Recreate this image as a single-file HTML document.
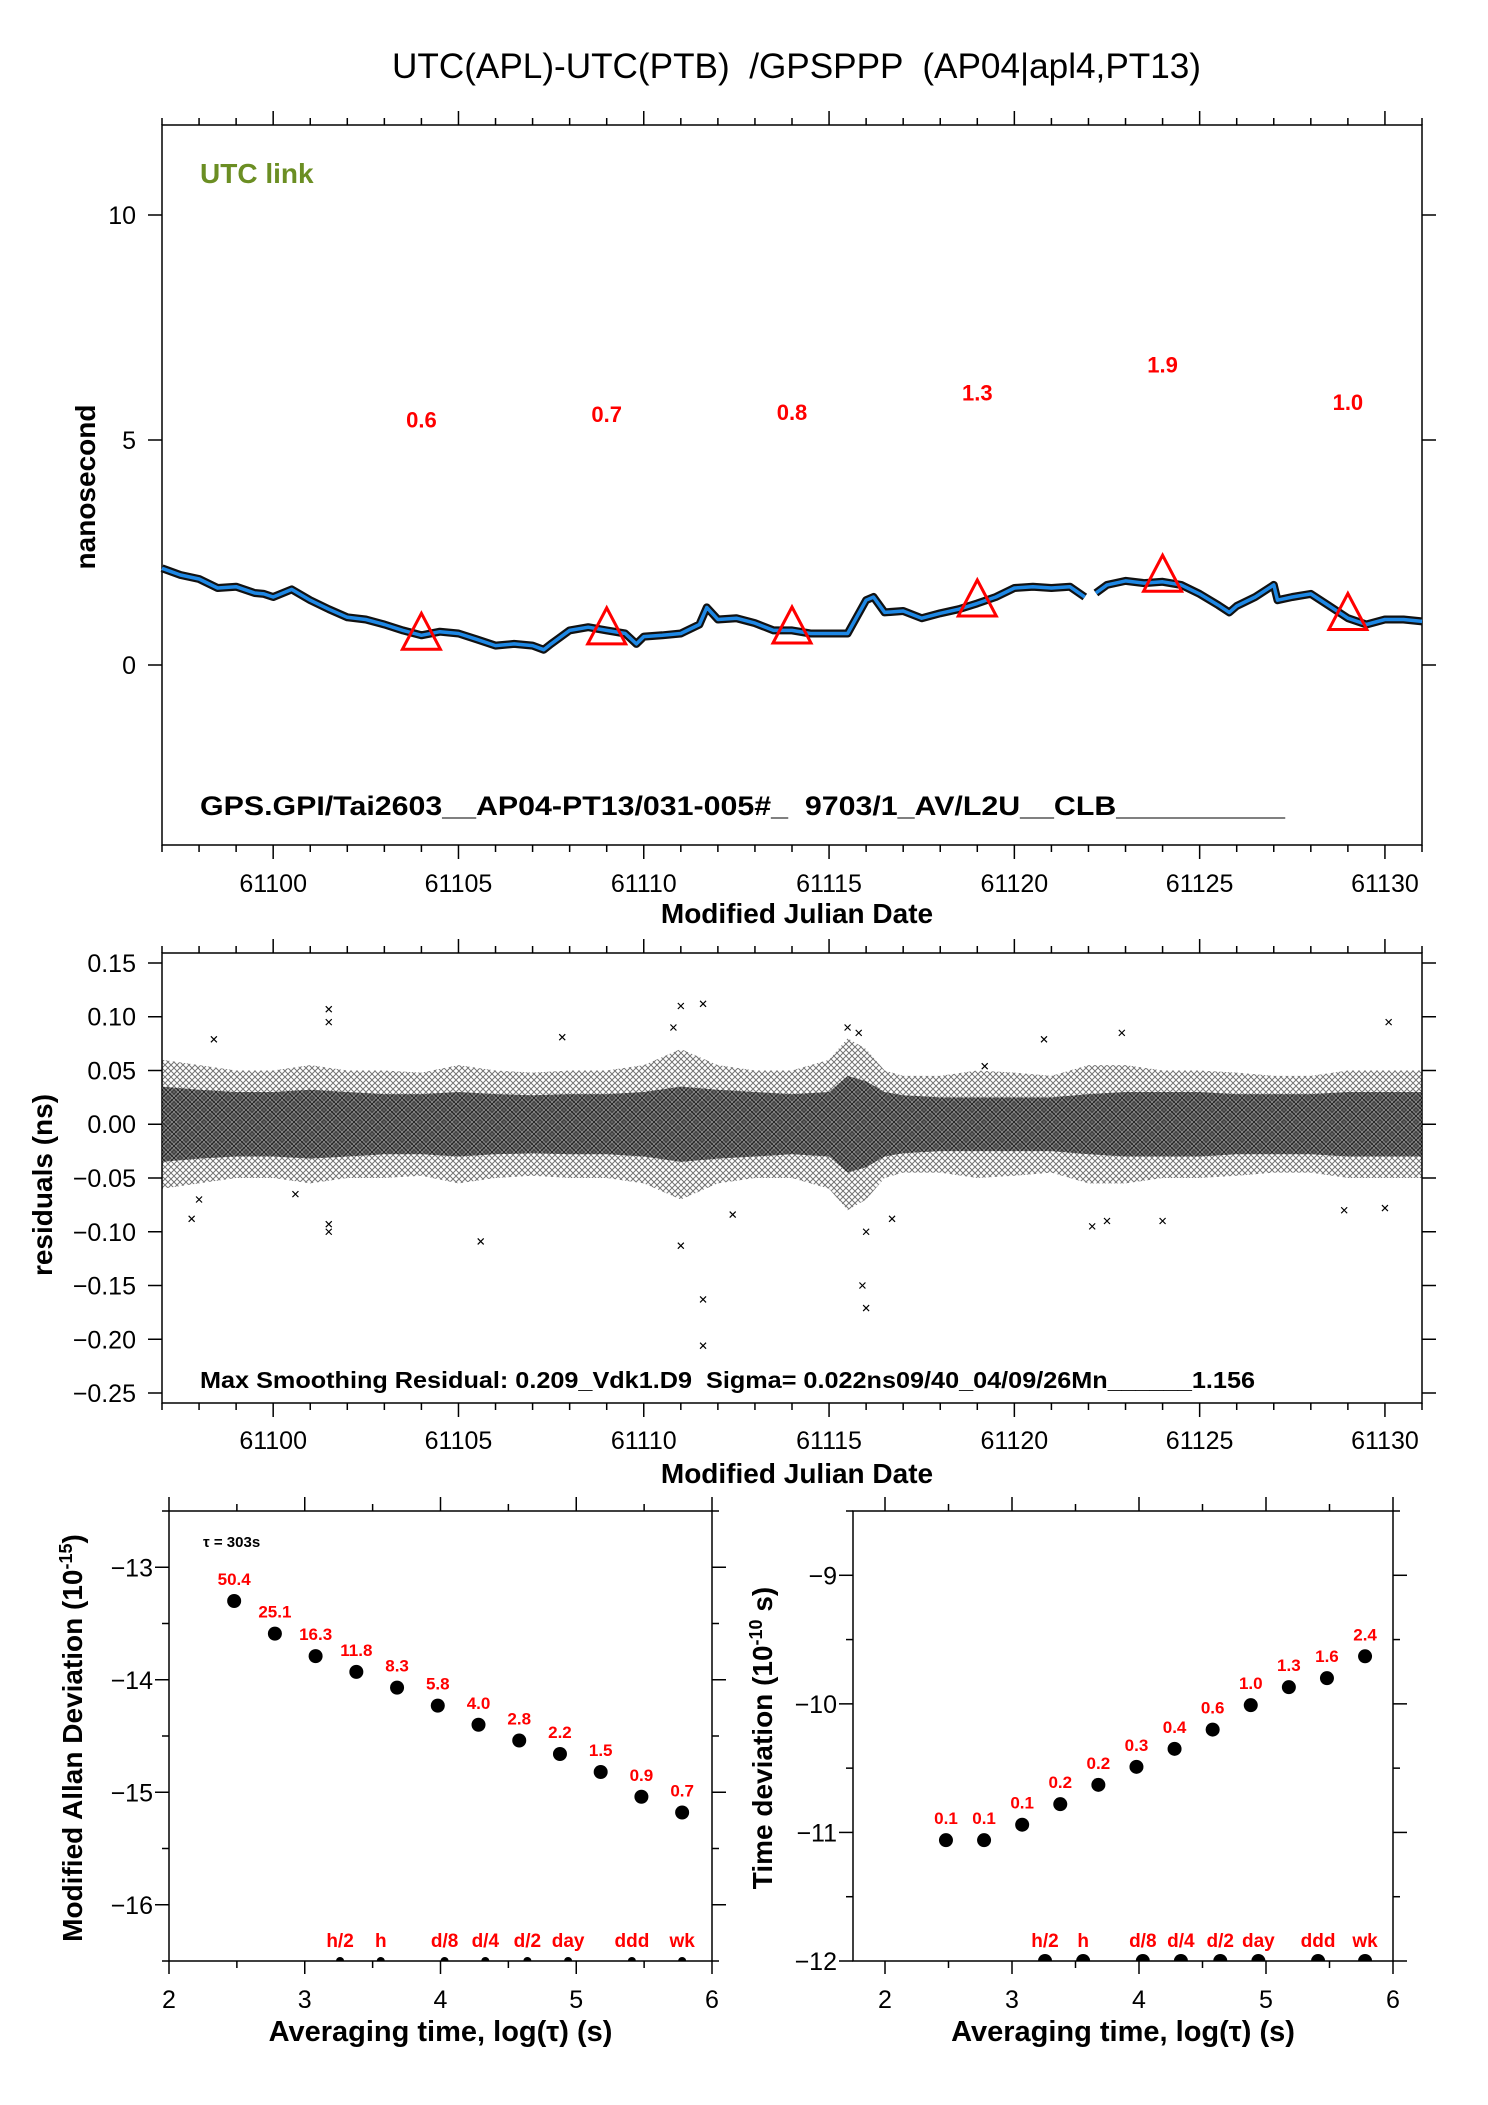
<!DOCTYPE html>
<html><head><meta charset="utf-8"><style>
html,body{margin:0;padding:0;background:#fff}
svg{display:block}
text{font-family:"Liberation Sans",sans-serif}
</style></head><body>
<svg id="s" width="1488" height="2105" viewBox="0 0 1488 2105" xmlns="http://www.w3.org/2000/svg">
<text x="392" y="78" font-size="35" textLength="809" lengthAdjust="spacingAndGlyphs" xml:space="preserve">UTC(APL)-UTC(PTB)  /GPSPPP  (AP04|apl4,PT13)</text>
<text x="200" y="183" font-size="28" font-weight="bold" fill="#6b8e23">UTC link</text>
<text x="200" y="815" font-size="27" font-weight="bold" textLength="1085" lengthAdjust="spacingAndGlyphs" xml:space="preserve">GPS.GPI/Tai2603__AP04-PT13/031-005#_  9703/1_AV/L2U__CLB__________</text>
<text x="200" y="1388" font-size="23" font-weight="bold" textLength="1055" lengthAdjust="spacingAndGlyphs" xml:space="preserve">Max Smoothing Residual: 0.209_Vdk1.D9  Sigma= 0.022ns09/40_04/09/26Mn______1.156</text>
<text x="203" y="1547" font-size="15" font-weight="bold">τ = 303s</text>
<g id="g"></g>
</svg>
<script>
// ---- Panel 1 data ----
const mjd1 = [61097,61097.5,61098,61098.5,61099,61099.5,61099.75,61100,61100.5,61101,61101.5,61102,61102.5,61103,61103.5,61104,61104.5,61105,61105.5,61106,61106.5,61107,61107.3,61107.5,61108,61108.5,61109,61109.5,61109.8,61110,61110.5,61111,61111.5,61111.7,61112,61112.5,61113,61113.5,61114,61114.5,61115,61115.5,61116,61116.2,61116.5,61117,61117.5,61118,61118.5,61119,61119.5,61120,61120.5,61121,61121.5,61121.9];
const ns1 = [2.15,2.0,1.91,1.71,1.74,1.6,1.58,1.51,1.68,1.44,1.24,1.06,1.01,0.9,0.77,0.66,0.74,0.7,0.57,0.43,0.47,0.43,0.34,0.47,0.77,0.84,0.77,0.7,0.47,0.63,0.66,0.7,0.9,1.28,1.01,1.04,0.93,0.77,0.77,0.7,0.7,0.7,1.44,1.51,1.17,1.2,1.04,1.15,1.24,1.37,1.51,1.71,1.74,1.71,1.74,1.51];
const mjd1b = [61122.2,61122.5,61123,61123.5,61124,61124.5,61125,61125.5,61125.8,61126,61126.5,61127,61127.1,61127.5,61128,61128.5,61129,61129.5,61130,61130.5,61131];
const ns1b = [1.6,1.78,1.87,1.82,1.85,1.78,1.58,1.33,1.17,1.31,1.51,1.78,1.44,1.51,1.58,1.31,1.04,0.9,1.01,1.01,0.97];
const triMjd = [61104,61109,61114,61119,61124,61129];
const triVal = [0.66,0.78,0.8,1.4,1.95,1.1];
const triLabels = ["0.6","0.7","0.8","1.3","1.9","1.0"];
const triLabelVal = [5.46,5.58,5.62,6.06,6.68,5.85];
const mjdTicks = [61100,61105,61110,61115,61120,61125,61130];
const nsTicks = [0,5,10];
// ---- Panel 2 data ----
const resDays = [61097,61098,61099,61100,61101,61102,61103,61104,61105,61106,61107,61108,61109,61110,61111,61112,61113,61114,61115,61115.5,61116,61116.5,61117,61118,61119,61120,61121,61122,61123,61124,61125,61126,61127,61128,61129,61130,61131];
const resCore = [0.035,0.032,0.03,0.03,0.032,0.03,0.028,0.028,0.03,0.028,0.027,0.028,0.028,0.03,0.035,0.032,0.03,0.028,0.03,0.045,0.04,0.03,0.027,0.025,0.025,0.025,0.025,0.028,0.03,0.03,0.03,0.028,0.028,0.028,0.03,0.03,0.03];
const resOuter = [0.06,0.055,0.05,0.05,0.055,0.05,0.05,0.048,0.055,0.05,0.048,0.05,0.05,0.055,0.07,0.055,0.05,0.05,0.06,0.08,0.07,0.05,0.045,0.045,0.05,0.048,0.045,0.055,0.055,0.05,0.05,0.048,0.045,0.045,0.05,0.05,0.05];
const outMjd = [61101.5,61101.5,61101.5,61098.4,61097.8,61105.6,61111.0,61111.6,61111.0,61111.6,61111.6,61115.9,61116.0,61116.0,61116.7,61120.8,61122.9,61122.5,61130.1,61130.0,61107.8,61112.4,61124.0,61119.2,61098.0,61101.5,61110.8,61115.5,61115.8,61122.1,61128.9,61100.6];
const outVal = [0.107,0.095,-0.093,0.079,-0.088,-0.109,0.11,0.112,-0.113,-0.163,-0.206,-0.15,-0.171,-0.10,-0.088,0.079,0.085,-0.09,0.095,-0.078,0.081,-0.084,-0.09,0.054,-0.07,-0.1,0.09,0.09,0.085,-0.095,-0.08,-0.065];
const resTicks = [0.15,0.10,0.05,0.00,-0.05,-0.10,-0.15,-0.20,-0.25];
// ---- Stability data ----
const logTau = [2.48,2.78,3.08,3.38,3.68,3.98,4.28,4.58,4.88,5.18,5.48,5.78];
const adev = [-13.30,-13.59,-13.79,-13.93,-14.07,-14.23,-14.40,-14.54,-14.66,-14.82,-15.04,-15.18];
const adevLabels = ["50.4","25.1","16.3","11.8","8.3","5.8","4.0","2.8","2.2","1.5","0.9","0.7"];
const tdev = [-11.06,-11.06,-10.94,-10.78,-10.63,-10.49,-10.35,-10.20,-10.01,-9.87,-9.80,-9.63];
const tdevLabels = ["0.1","0.1","0.1","0.2","0.2","0.3","0.4","0.6","1.0","1.3","1.6","2.4"];
const markPos = [3.26,3.56,4.03,4.33,4.64,4.94,5.41,5.78];
const markLabels = ["h/2","h","d/8","d/4","d/2","day","ddd","wk"];
const adevTicks = [-13,-14,-15,-16];
const tdevTicks = [-9,-10,-11,-12];
const tauTicks = [2,3,4,5,6];

const NS="http://www.w3.org/2000/svg";
const G=document.getElementById('g');
function el(t,a,p){const e=document.createElementNS(NS,t);for(const k in a)e.setAttribute(k,a[k]);(p||G).appendChild(e);return e;}
function lin(d0,d1,r0,r1){return v=>r0+(v-d0)*(r1-r0)/(d1-d0);}
function txt(x,y,s,size,opt){const e=el('text',Object.assign({x:x,y:y,'font-size':size},opt||{}));e.textContent=s;return e;}

// ===== Panel 1 =====
const L1=162,R1=1422,T1=125,B1=845;
const x1=lin(61097,61131,L1,R1), y1=lin(-4,12,B1,T1);
let fr=el('rect',{x:L1,y:T1,width:R1-L1,height:B1-T1,fill:'none',stroke:'#000','stroke-width':1.5});


for(let d=61097;d<=61131;d++){const big=d%5===0;const L=big?14:7;const x=x1(d);
 el('line',{x1:x,x2:x,y1:T1,y2:T1-L,stroke:'#000','stroke-width':1.5});
 el('line',{x1:x,x2:x,y1:B1,y2:B1+L,stroke:'#000','stroke-width':1.5});}
mjdTicks.forEach(v=>{const t=txt(x1(v),892,String(v),25,{'text-anchor':'middle'});
 
 });
nsTicks.forEach(v=>{const y=y1(v);
 el('line',{x1:L1,x2:L1-14,y1:y,y2:y,stroke:'#000','stroke-width':1.5});
 el('line',{x1:R1,x2:R1+14,y1:y,y2:y,stroke:'#000','stroke-width':1.5});
 const t=txt(136,y+9,String(v),25,{'text-anchor':'end'});
 
 });
let t=txt(797,923,'Modified Julian Date',28,{'text-anchor':'middle','font-weight':'bold'});


t=txt(0,0,'nanosecond',28,{'text-anchor':'middle','font-weight':'bold',transform:'translate(95,487) rotate(-90)'});


function pathOf(xs,ys){return xs.map((v,i)=>(i?'L':'M')+x1(v).toFixed(1)+','+y1(ys[i]).toFixed(1)).join('');}
[[mjd1,ns1],[mjd1b,ns1b]].forEach(s=>{
 const b=el('path',{d:pathOf(s[0],s[1]),fill:'none',stroke:'#111','stroke-width':8,'stroke-linejoin':'round'});
 
 
 const l=el('path',{d:pathOf(s[0],s[1]),fill:'none',stroke:'#1e88e5','stroke-width':3.5,'stroke-linejoin':'round'});
 
 });
triMjd.forEach((m,i)=>{const x=x1(m),y=y1(triVal[i]);
 const p=el('polygon',{points:`${x-19},${y+14} ${x+19},${y+14} ${x},${y-22}`,fill:'none',stroke:'#f00','stroke-width':3});
 
 
 const lt=txt(x,y1(triLabelVal[i])+8,triLabels[i],22,{'text-anchor':'middle','font-weight':'bold',fill:'#f00'});
 
 });

// ===== Panel 2 =====
const T2=953,B2=1403;
const y2=lin(-0.2593,0.1593,B2,T2);
fr=el('rect',{x:L1,y:T2,width:R1-L1,height:B2-T2,fill:'none',stroke:'#000','stroke-width':1.5});


for(let d=61097;d<=61131;d++){const big=d%5===0;const L=big?14:7;const x=x1(d);
 el('line',{x1:x,x2:x,y1:T2,y2:T2-L,stroke:'#000','stroke-width':1.5});
 el('line',{x1:x,x2:x,y1:B2,y2:B2+L,stroke:'#000','stroke-width':1.5});}
mjdTicks.forEach(v=>{const t=txt(x1(v),1449,String(v),25,{'text-anchor':'middle'});
 
 });
resTicks.forEach(v=>{const y=y2(v);
 el('line',{x1:L1,x2:L1-14,y1:y,y2:y,stroke:'#000','stroke-width':1.5});
 el('line',{x1:R1,x2:R1+14,y1:y,y2:y,stroke:'#000','stroke-width':1.5});
 const t=txt(136,y+9,(v<0?'\u2212':'')+Math.abs(v).toFixed(2),25,{'text-anchor':'end'});
 
 });
t=txt(797,1483,'Modified Julian Date',28,{'text-anchor':'middle','font-weight':'bold'});


t=txt(0,0,'residuals (ns)',28,{'text-anchor':'middle','font-weight':'bold',transform:'translate(52,1185) rotate(-90)'});


function band(w){let up=resDays.map((d,i)=>x1(d).toFixed(1)+','+y2(w[i]).toFixed(1));
 let dn=resDays.slice().reverse().map((d,j)=>{const i=resDays.length-1-j;return x1(d).toFixed(1)+','+y2(-w[i]).toFixed(1);});
 return 'M'+up.join('L')+'L'+dn.join('L')+'Z';}
const pat=el('pattern',{id:'px',width:6,height:6,patternUnits:'userSpaceOnUse'});
el('path',{d:'M0,0L6,6M6,0L0,6',stroke:'#000','stroke-width':1},pat);
const pat2=el('pattern',{id:'px2',width:4,height:4,patternUnits:'userSpaceOnUse'});
el('rect',{width:4,height:4,fill:'#777'},pat2);
el('path',{d:'M0,0L4,4M4,0L0,4',stroke:'#000','stroke-width':1.1},pat2);
let bo=el('path',{d:band(resOuter),fill:'url(#px)',opacity:0.55});


let bc=el('path',{d:band(resCore),fill:'url(#px2)',opacity:0.72});


outMjd.forEach((m,i)=>{const x=x1(m),y=y2(outVal[i]);
 const p=el('path',{d:`M${x-3},${y-3}L${x+3},${y+3}M${x+3},${y-3}L${x-3},${y+3}`,stroke:'#000','stroke-width':1.2});
 
 });

// ===== Stability panels =====
function stab(o){
 const {L,R,T,B,xmin,xmax,ymin,ymax,ticks,vals,labels,name,ylab,ylx,dotR,sup}=o;
 const xs=lin(xmin,xmax,L,R), ys=lin(ymin,ymax,B,T);
 const f=el('rect',{x:L,y:T,width:R-L,height:B-T,fill:'none',stroke:'#000','stroke-width':1.5});
 
 
 for(let v=2;v<=6;v+=0.5){const x=xs(v);const big=Number.isInteger(v);
  el('line',{x1:x,x2:x,y1:T,y2:T-(big?14:7),stroke:'#000','stroke-width':1.5});
  el('line',{x1:x,x2:x,y1:B,y2:B+(big?13:7),stroke:'#000','stroke-width':1.5});}
 tauTicks.forEach(v=>{const t=txt(xs(v),2008,String(v),25,{'text-anchor':'middle'});
  
  });
 for(let v=Math.ceil(ymin*2)/2;v<=ymax+0.001;v+=0.5){const y=ys(v);const big=Number.isInteger(v);
  el('line',{x1:L,x2:L-(big?14:7),y1:y,y2:y,stroke:'#000','stroke-width':1.5});
  el('line',{x1:R,x2:R+(big?14:7),y1:y,y2:y,stroke:'#000','stroke-width':1.5});}
 ticks.forEach(v=>{const t=txt(L-16,ys(v)+9,'\u2212'+Math.abs(v),25,{'text-anchor':'end'});
  
  });
 const xt=txt((L+R)/2,2041,'',29,{'text-anchor':'middle','font-weight':'bold'});
 xt.textContent='Averaging time, log(\u03c4) (s)';
 
 
 const yt=el('text',{x:0,y:0,'font-size':28,'font-weight':'bold','text-anchor':'middle',transform:`translate(${ylx},${(T+B)/2+2}) rotate(-90)`});
 yt.innerHTML=ylab[0]+'<tspan dy="-10" font-size="18">'+sup+'</tspan><tspan dy="10">'+ylab[1]+'</tspan>';
 
 
 logTau.forEach((v,i)=>{const x=xs(v),y=ys(vals[i]);
  const c=el('circle',{cx:x,cy:y,r:7,fill:'#000'});
  
  
  const l=txt(x,y-16,labels[i],17,{'text-anchor':'middle','font-weight':'bold',fill:'#f00'});
  
  });
 markPos.forEach((v,i)=>{const x=xs(v);
  const c=el('path',{d:`M${x-dotR},${B}A${dotR},${dotR} 0 0 1 ${x+dotR},${B}Z`,fill:'#000'});
  
  
  const l=txt(x,B-14,markLabels[i],19,{'text-anchor':'middle','font-weight':'bold',fill:'#f00'});
  
  });
}
stab({L:169,R:712,T:1511,B:1961,xmin:2,xmax:6,ymin:-16.5,ymax:-12.5,ticks:adevTicks,vals:adev,labels:adevLabels,name:'adev',ylab:['Modified Allan Deviation (10',')'],sup:'-15',ylx:82,dotR:4});
stab({L:853,R:1393,T:1511,B:1961,xmin:1.748,xmax:6,ymin:-12,ymax:-8.5,ticks:tdevTicks,vals:tdev,labels:tdevLabels,name:'tdev',ylab:['Time deviation (10',' s)'],sup:'-10',ylx:772,dotR:7});
</script>
</body></html>
